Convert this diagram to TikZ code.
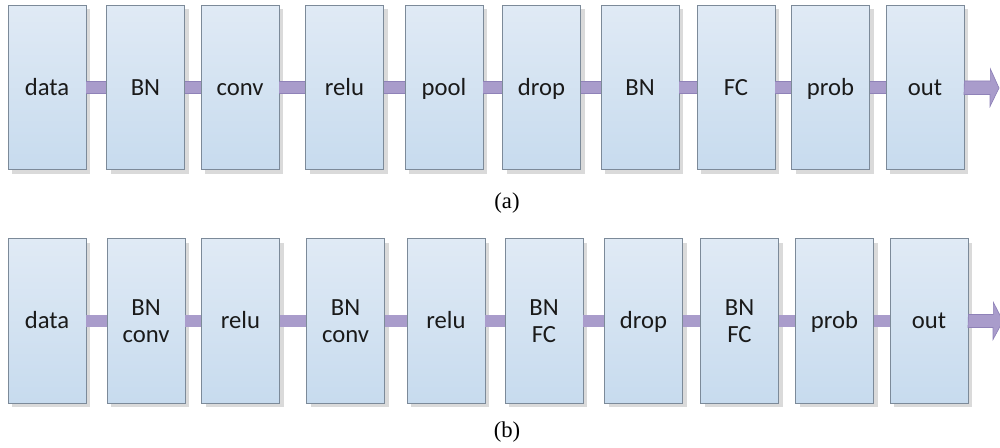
\documentclass[tikz,border=0pt]{standalone}
\usepackage{fontspec}
\setmainfont{Carlito}
\newfontfamily\capfont{Liberation Serif}
\usetikzlibrary{shadows}
\definecolor{boxtop}{HTML}{E0EAF5}
\definecolor{boxbot}{HTML}{C7DBEE}
\definecolor{boxline}{HTML}{7C8A99}
\definecolor{bandfill}{HTML}{A99CCB}
\definecolor{bandline}{HTML}{8F82B8}
\definecolor{shadowc}{HTML}{DADADA}
\definecolor{textc}{HTML}{1A1A1A}
\newcommand\capline[1]{\smash{#1}\vphantom{B}}
\tikzset{
  layerbox/.style={draw=boxline, line width=0.6pt, top color=boxtop, bottom color=boxbot,
    minimum width=58.5pt, minimum height=123.5pt, inner sep=0pt, align=center,
    text=textc, font=\fontsize{18.5}{20.5}\selectfont,
    general shadow={fill=shadowc, shadow xshift=3pt, shadow yshift=-3pt}},
  band/.style={draw=bandline, line width=0.5pt, double=bandfill, double distance=8.6pt},
  endarrow/.style={fill=bandfill, draw=bandline, line width=0.5pt},
  caption/.style={font=\capfont\fontsize{17}{20}\selectfont, text=black}
}
\begin{document}
\begin{tikzpicture}[x=0.75pt,y=-0.75pt]
\useasboundingbox (0,0) rectangle (1000,447);
% Row (a)
\foreach \n/\x/\t in {a1/47/data, a2/145.5/BN, a3/240/conv, a4/344.5/relu, a5/444/pool,
  a6/541.5/drop, a7/640/BN, a8/736/FC, a9/830.5/prob, a10/925/out}
  {\node[layerbox] (\n) at (\x,87.5) {\capline{\t}};}
\foreach \p/\q in {a1/a2, a2/a3, a3/a4, a4/a5, a5/a6, a6/a7, a7/a8, a8/a9, a9/a10}
  {\draw[band] (\p.east) -- (\q.west);}
\coordinate (atip) at (999,88);
\draw[endarrow] ([yshift=4.9pt]a10.east) -- ++(26,0) -- ++(0,-12) -- (atip)
  -- ++(-9,18.5) -- ++(0,-12) -- ++(-26,0) -- cycle;
\node[caption] (capa) at (507,203) {(a)};
% Row (b)
\foreach \n/\x/\t in {b1/47/\capline{data}, b2/146/{\capline{BN}\\\capline{conv}},
  b3/240.5/\capline{relu}, b4/345.5/{\capline{BN}\\\capline{conv}},
  b5/446/\capline{relu}, b6/544/{\capline{BN}\\\capline{FC}}, b7/643.5/\capline{drop},
  b8/739.5/{\capline{BN}\\\capline{FC}}, b9/834.5/\capline{prob}, b10/929/\capline{out}}
  {\node[layerbox] (\n) at (\x,321) {\t};}
\foreach \p/\q in {b1/b2, b2/b3, b3/b4, b4/b5, b5/b6, b6/b7, b7/b8, b8/b9, b9/b10}
  {\draw[band] (\p.east) -- (\q.west);}
\coordinate (btip) at (1003,321);
\draw[endarrow] ([yshift=4.9pt]b10.east) -- ++(25,0) -- ++(0,-12) -- (btip)
  -- ++(-10,18.5) -- ++(0,-12) -- ++(-25,0) -- cycle;
\node[caption] (capb) at (507,432) {(b)};
\end{tikzpicture}
\end{document}
